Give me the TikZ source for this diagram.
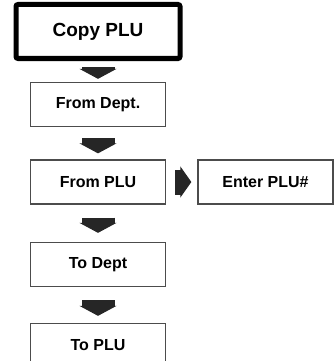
\documentclass[tikz,border=0pt]{standalone}
\usepackage{fontspec}
\setmainfont{Liberation Sans}
\usetikzlibrary{arrows.meta}

\tikzset{
  box/.style={draw=black!70,line width=1.3pt,minimum width=135pt,minimum height=44pt,inner sep=0pt,font=\fontsize{16}{19}\selectfont\bfseries},
  titlebox/.style={draw=black,line width=5pt,rounded corners=2pt,minimum width=164pt,minimum height=54pt,inner sep=0pt,font=\fontsize{19}{22}\selectfont\bfseries},
  downarr/.style={line width=33pt,black!85,-{Triangle[width=37pt,length=10pt,line width=1.2pt]}},
  rightarr/.style={line width=25pt,black!85,-{Triangle[width=31pt,length=11pt,line width=1.2pt]}}
}

\begin{document}
\begin{tikzpicture}[x=1pt,y=-1pt]
\useasboundingbox (0,0) rectangle (334,361);
\node[titlebox] (copy)   at (98,31.5)   {Copy PLU};
\node[box]      (dept)   at (98,104.5)  {From Dept.};
\node[box]      (plu)    at (98,182)    {From PLU};
\node[box]      (enter)  at (265.5,182) {Enter PLU\#};
\node[box]      (todept) at (98,264.5)  {To Dept};
\node[box]      (toplu)  at (98,345.5)  {To PLU};
\draw [downarr,shorten <=6pt,shorten >=3pt]  (copy) to (dept);
\draw [downarr,shorten <=11pt,shorten >=6pt] (dept) to (plu);
\draw [rightarr,shorten <=9pt,shorten >=6pt] (plu) to (enter);
\draw [downarr,shorten <=13pt,shorten >=9pt] (plu) to (todept);
\draw [downarr,shorten <=13pt,shorten >=7pt] (todept) to (toplu);
\end{tikzpicture}
\end{document}
